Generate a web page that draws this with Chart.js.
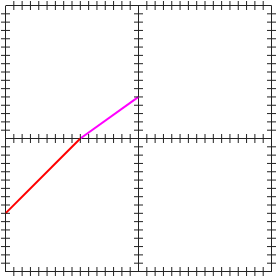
<!DOCTYPE html>
<html>
<head>
<meta charset="utf-8">
<script src="https://cdn.jsdelivr.net/npm/chart.js@4"></script>
<style>
  html, body { margin: 0; padding: 0; background: #fff; }
  canvas { display: block; }
</style>
</head>
<body>
<canvas id="chart" width="278" height="277"></canvas>
<script>
// grid of 2x2 panels, 16 tick steps per panel
const xRange = [0, 32];
const yRange = [0, 32];
const panelEdges = [0, 16, 32];

const redX = [0, 9];
const redY = [7, 16];
const magentaX = [9, 16];
const magentaY = [16, 21];

const LINE = '#222';

function toPoints(xs, ys) {
    return xs.map((x, i) => ({ x, y: ys[i] }));
}

// short marks that cross every frame line, both in and out
const crossTicks = {
    id: 'crossTicks',
    afterDraw(chart) {
        const { ctx } = chart;
        const sx = chart.scales.x, sy = chart.scales.y;
        const half = 4.5;
        ctx.save();
        ctx.strokeStyle = LINE;
        ctx.lineWidth = 1;
        ctx.beginPath();
        sx.ticks.forEach(t => {
            if (panelEdges.includes(t.value)) return;
            const px = sx.getPixelForValue(t.value);
            panelEdges.forEach(e => {
                const py = sy.getPixelForValue(e);
                ctx.moveTo(px, py - half);
                ctx.lineTo(px, py + half);
            });
        });
        sy.ticks.forEach(t => {
            if (panelEdges.includes(t.value)) return;
            const py = sy.getPixelForValue(t.value);
            panelEdges.forEach(e => {
                const px = sx.getPixelForValue(e);
                ctx.moveTo(px - half, py);
                ctx.lineTo(px + half, py);
            });
        });
        ctx.stroke();
        ctx.restore();
    },
};

const frameGrid = {
    color: c => panelEdges.includes(c.tick.value) ? LINE : 'rgba(0,0,0,0)',
    lineWidth: 1,
    drawTicks: false,
};

new Chart(document.getElementById('chart'), {
    type: 'scatter',
    data: {
        datasets: [
            { data: toPoints(redX, redY), borderColor: '#ff0000', borderWidth: 2, showLine: true, pointRadius: 0 },
            { data: toPoints(magentaX, magentaY), borderColor: '#ff00ff', borderWidth: 2, showLine: true, pointRadius: 0 },
        ],
    },
    options: {
        responsive: false,
        animation: false,
        layout: { padding: { left: 5.5, right: 6.5, top: 5.5, bottom: 5.5 } },
        plugins: { legend: { display: false }, tooltip: { enabled: false } },
        scales: {
            x: {
                min: xRange[0], max: xRange[1],
                ticks: { display: false, stepSize: 1 },
                grid: frameGrid,
                border: { display: false },
            },
            y: {
                min: yRange[0], max: yRange[1],
                ticks: { display: false, stepSize: 1 },
                grid: frameGrid,
                border: { display: false },
            },
        },
    },
    plugins: [crossTicks],
});
</script>
</body>
</html>
